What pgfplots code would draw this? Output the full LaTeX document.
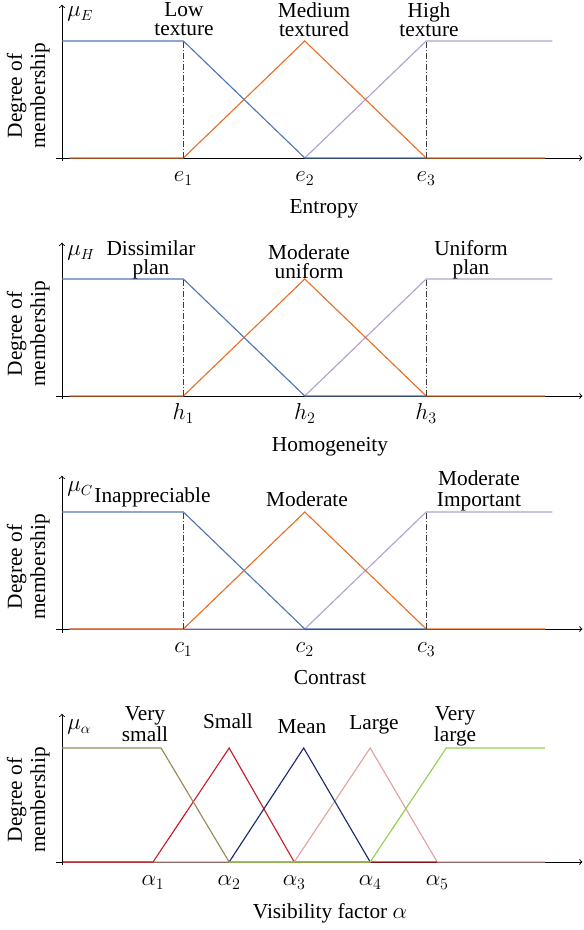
\documentclass[border=0pt]{standalone}
\usepackage{fontspec}
\setmainfont{Liberation Serif}
\usepackage{pgfplots}
\pgfplotsset{compat=1.18}

\definecolor{cBlue}{RGB}{79,119,178}
\definecolor{cOrange}{RGB}{232,112,40}
\definecolor{cLav}{RGB}{178,161,207}
\definecolor{cOlive}{RGB}{148,138,84}
\definecolor{cRed}{RGB}{200,30,40}
\definecolor{cNavy}{RGB}{30,40,110}
\definecolor{cPink}{RGB}{226,160,160}
\definecolor{cGreen}{RGB}{146,208,80}
\definecolor{cDash}{RGB}{60,60,60}

\pgfplotsset{
  memb/.style={
    scale only axis, clip=false,
    width=394.83pt,
    xmin=-0.05, xmax=4.287, ymin=-0.03,
    axis lines=middle,
    axis line style={line width=0.7pt, -to},
    ytick=\empty,
    major tick length=0pt,
    tick label style={font=\fontsize{17}{20}\selectfont},
    xticklabel style={anchor=base, yshift=-18pt},
    every axis plot/.append style={line width=0.85pt, mark=none},
  },
  guide/.style={line width=0.6pt, cDash, dash pattern=on 4.5pt off 1.5pt on 0.75pt off 1.5pt},
}

\begin{document}
\begin{tikzpicture}[x=0.75pt, y=0.75pt,
  every node/.style={font=\fontsize{16}{14.25}\selectfont, inner sep=0pt},
  mu/.style={anchor=base west, font=\fontsize{16}{20}\selectfont},
  two/.style={anchor=north, align=center}]
\useasboundingbox (0,0) rectangle (584,930);

% --- Entropy
\begin{axis}[memb, height=117.58pt, ymax=1.31, at={(41.955pt,576.37pt)}, anchor=south west,
  xtick={1,2,3}, xticklabels={$e_1$,$e_2$,$e_3$}]
  \addplot[cLav] coordinates {(2,0) (3,1) (4.04,1)};
  \addplot[cOrange] coordinates {(0.06,0) (1,0) (2,1) (3,0) (3.98,0)};
  \addplot[cBlue] coordinates {(0,1) (1,1) (2,0) (3,0)};
  \addplot[guide] coordinates {(1,0) (1,1)};
  \addplot[guide] coordinates {(3,0) (3,1)};
\end{axis}

% --- Homogeneity
\begin{axis}[memb, height=117.58pt, ymax=1.31, at={(41.955pt,397.87pt)}, anchor=south west,
  xtick={1,2,3}, xticklabels={$h_1$,$h_2$,$h_3$}]
  \addplot[cLav] coordinates {(2,0) (3,1) (4.04,1)};
  \addplot[cOrange] coordinates {(0.06,0) (1,0) (2,1) (3,0) (3.98,0)};
  \addplot[cBlue] coordinates {(0,1) (1,1) (2,0) (3,0)};
  \addplot[guide] coordinates {(1,0) (1,1)};
  \addplot[guide] coordinates {(3,0) (3,1)};
\end{axis}

% --- Contrast
\begin{axis}[memb, height=117.58pt, ymax=1.31, at={(41.955pt,223.12pt)}, anchor=south west,
  xtick={1,2,3}, xticklabels={$c_1$,$c_2$,$c_3$}]
  \addplot[cLav] coordinates {(0.06,0) (2,0) (3,1) (4.04,1)};
  \addplot[cOrange] coordinates {(0.06,0) (1,0) (2,1) (3,0) (3.98,0)};
  \addplot[cBlue] coordinates {(0,1) (1,1) (2,0) (3,0)};
  \addplot[guide] coordinates {(1,0) (1,1)};
  \addplot[guide] coordinates {(3,0) (3,1)};
\end{axis}

% --- Visibility factor
\begin{axis}[memb, height=113.7pt, ymax=1.30, at={(41.955pt,48.44pt)}, anchor=south west,
  xtick={0.750,1.377,1.913,2.539,3.091},
  xticklabels={$\alpha_1$,$\alpha_2$,$\alpha_3$,$\alpha_4$,$\alpha_5$}]
  \addplot[cPink] coordinates {(0.01,0) (1.913,0) (2.539,1) (3.091,0) (3.978,0)};
  \addplot[cRed] coordinates {(0.01,0) (0.750,0) (1.377,1) (1.913,0) (3.091,0)};
  \addplot[cOlive] coordinates {(0,1) (0.816,1) (1.377,0) (2.539,0)};
  \addplot[cNavy] coordinates {(1.377,0) (1.991,1) (2.539,0)};
  \addplot[cGreen] coordinates {(1.377,0) (2.539,0) (3.166,1) (3.978,1)};
\end{axis}

% axis names
\node[anchor=base] at (324,716) {Entropy};
\node[anchor=base] at (330,478) {Homogeneity};
\node[anchor=base] at (330,245) {Contrast};
\node[anchor=base] at (330,12) {Visibility factor $\alpha$};

% y labels
\foreach \yc in {834,596,363,130}{
  \node[rotate=90, anchor=base] at (22,\yc) {Degree of};
  \node[rotate=90, anchor=base] at (45,\yc) {membership};
}

% mu labels
\node[mu] at (67,913) {$\mu_E$};
\node[mu] at (67,674) {$\mu_H$};
\node[mu] at (67,438) {$\mu_C$};
\node[mu] at (67,200) {$\mu_\alpha$};

% panel 1 set names
\node[two] at (184,927.5) {Low\\texture};
\node[two] at (314,927.5) {Medium\\textured};
\node[two] at (429,927.5) {High\\texture};

% panel 2
\node[two] at (151,689.5) {Dissimilar\\plan};
\node[two] at (309,685.5) {Moderate\\uniform};
\node[two] at (471,689.5) {Uniform\\plan};

% panel 3
\node[anchor=base] at (152.5,427) {Inappreciable};
\node[anchor=base] at (307,423) {Moderate};
\node[two, font=\fontsize{16}{15.75}\selectfont] at (479,459.5) {Moderate\\Important};

% panel 4
\node[two, font=\fontsize{16}{13.5}\selectfont] at (145,223.5) {Very\\small};
\node[anchor=base] at (228,201) {Small};
\node[anchor=base] at (302,196) {Mean};
\node[anchor=base] at (374,200) {Large};
\node[two, font=\fontsize{16}{13.5}\selectfont] at (455,223.5) {Very\\large};
\end{tikzpicture}
\end{document}
